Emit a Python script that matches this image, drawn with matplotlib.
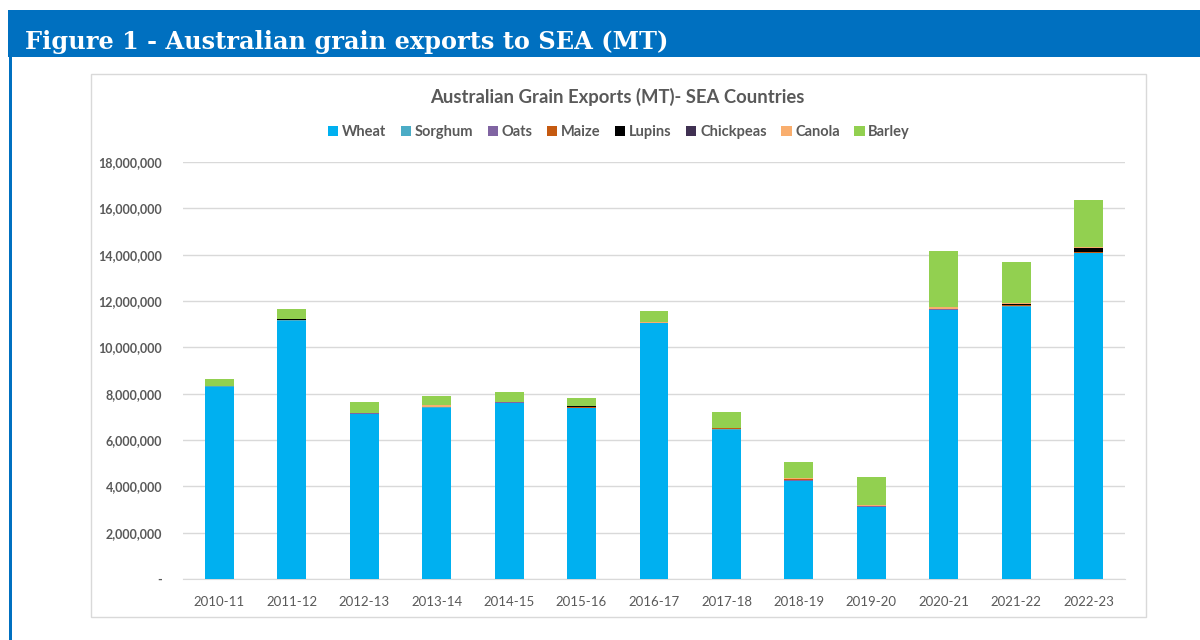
import matplotlib
matplotlib.use("Agg")
import matplotlib.pyplot as plt
from matplotlib.patches import Rectangle
from matplotlib.ticker import FuncFormatter
import numpy as np

years = ["2010-11", "2011-12", "2012-13", "2013-14", "2014-15", "2015-16", "2016-17",
         "2017-18", "2018-19", "2019-20", "2020-21", "2021-22", "2022-23"]
wheat = [8.30, 11.15, 7.14, 7.40, 7.60, 7.39, 11.03, 6.45, 4.25, 3.11, 11.60, 11.75, 14.08]
sorghum = [0.01, 0.01, 0.00, 0.01, 0.00, 0.00, 0.00, 0.03, 0.00, 0.01, 0.02, 0.02, 0.00]
oats = [0.01, 0.01, 0.01, 0.01, 0.02, 0.01, 0.01, 0.01, 0.01, 0.01, 0.02, 0.02, 0.01]
maize = [0.02, 0.01, 0.01, 0.01, 0.03, 0.01, 0.02, 0.01, 0.05, 0.02, 0.02, 0.04, 0.02]
lupins = [0.00, 0.05, 0.01, 0.01, 0.00, 0.06, 0.01, 0.01, 0.01, 0.00, 0.01, 0.03, 0.17]
chickpeas = [0.00, 0.00, 0.00, 0.00, 0.00, 0.00, 0.00, 0.00, 0.00, 0.00, 0.00, 0.01, 0.00]
canola = [0.01, 0.00, 0.00, 0.07, 0.01, 0.00, 0.02, 0.01, 0.02, 0.03, 0.05, 0.03, 0.04]
barley = [0.28, 0.43, 0.47, 0.40, 0.40, 0.34, 0.48, 0.70, 0.70, 1.21, 2.45, 1.78, 2.04]

series_names = ["Wheat", "Sorghum", "Oats", "Maize", "Lupins", "Chickpeas", "Canola", "Barley"]
series_vals = [wheat, sorghum, oats, maize, lupins, chickpeas, canola, barley]
colors = ["#00B0F0", "#4BACC6", "#8064A2", "#C55A11", "#000000", "#403152", "#F9AE6E", "#92D050"]

W, H = 1200, 640
fig = plt.figure(figsize=(W / 100, H / 100), dpi=100)

# header band
fig.patches.append(Rectangle((8 / W, 1 - 57 / H), 1 - 8 / W, 47 / H, transform=fig.transFigure,
                             facecolor="#0070C0", edgecolor="none", zorder=-2))
fig.patches.append(Rectangle((9 / W, 0), 2.5 / W, 1 - 57 / H, transform=fig.transFigure,
                             facecolor="#0070C0", edgecolor="none", zorder=-2))
fig.text(25 / W, 1 - 49 / H, "Figure 1 - Australian grain exports to SEA (MT)", color="white",
         fontsize=17.3, fontweight="bold", family="DejaVu Serif", va="baseline", ha="left")

# chart box
fig.patches.append(Rectangle((91 / W, 1 - 617 / H), (1146 - 91) / W, (617 - 74) / H,
                             transform=fig.transFigure, facecolor="white",
                             edgecolor="#D9D9D9", linewidth=1, zorder=-2))

ax = fig.add_axes([183 / W, 1 - 579 / H, (1125 - 183) / W, (579 - 162) / H])
ax.set_zorder(1)
ax.patch.set_alpha(0)
x = np.arange(len(years))
bottom = np.zeros(len(years))
for name, vals, c in zip(series_names, series_vals, colors):
    v = np.array(vals) * 1e6
    ax.bar(x, v, bottom=bottom, width=0.4, color=c, label=name, zorder=3)
    bottom += v

ax.set_ylim(0, 18e6)
ax.set_xlim(-0.5, len(years) - 0.5)
ax.set_yticks(np.arange(0, 18e6 + 1, 2e6))
ax.yaxis.set_major_formatter(FuncFormatter(lambda v, p: "-" if v == 0 else f"{int(v):,}"))
ax.set_xticks(x)
ax.set_xticklabels(years)
ax.grid(axis="y", color="#D9D9D9", linewidth=1, zorder=0)
for s in ["top", "right", "left"]:
    ax.spines[s].set_visible(False)
ax.spines["bottom"].set_color("#D9D9D9")
ax.tick_params(axis="both", length=0, colors="#595959")
ax.tick_params(axis="y", pad=15)
ax.tick_params(axis="x", pad=12)
for lab in ax.get_yticklabels():
    lab.set_fontweight("bold")
    lab.set_fontsize(9)
    lab.set_family("Lato")
for lab in ax.get_xticklabels():
    lab.set_fontsize(9.5)
    lab.set_family("Lato")

fig.text(617 / W, 1 - 97 / H, "Australian Grain Exports (MT)- SEA Countries", ha="center", va="center",
         fontsize=13.3, fontweight="bold", color="#595959", family="Lato")

handles, labels = ax.get_legend_handles_labels()
fig.legend(handles, labels, loc="center", bbox_to_anchor=(619 / W, 1 - 132 / H), ncol=8,
           frameon=False, handlelength=0.7, handleheight=0.7, handletextpad=0.25, columnspacing=1.0,
           prop={"family": "Lato", "weight": "bold", "size": 10.5}, labelcolor="#595959")

fig.savefig("out.png", dpi=100)
